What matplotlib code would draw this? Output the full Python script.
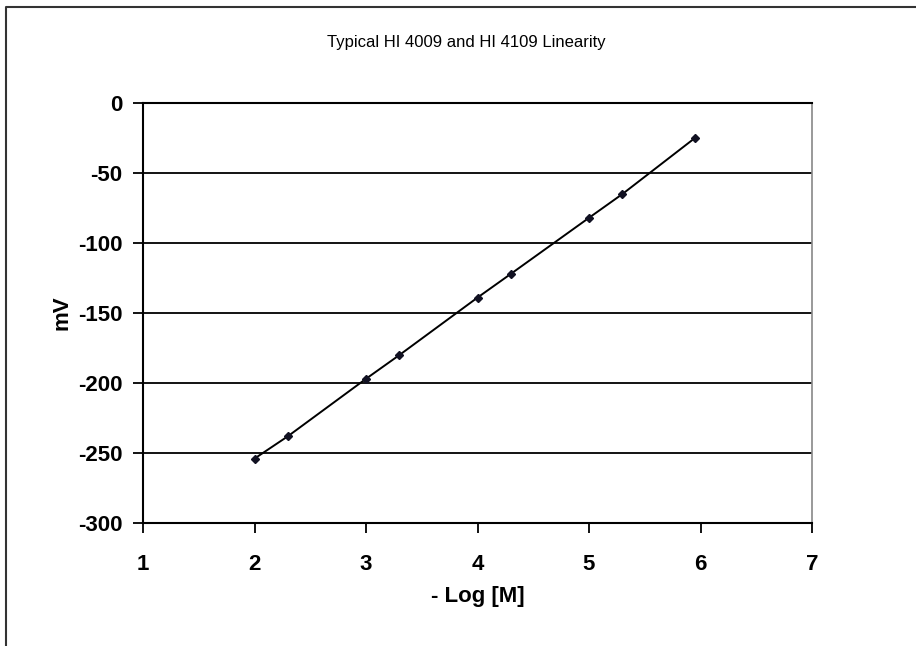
import matplotlib
matplotlib.use("Agg")
import matplotlib.pyplot as plt
from matplotlib.lines import Line2D

# data
log_m = [2, 2.3, 3, 3.3, 4, 4.3, 5, 5.3, 5.95]
mv = [-254, -238, -197, -180, -139, -122, -82, -65, -25]
xticks = [1, 2, 3, 4, 5, 6, 7]
yticks = [0, -50, -100, -150, -200, -250, -300]

plt.rcParams['font.family'] = ['Liberation Sans Narrow', 'Liberation Sans', 'DejaVu Sans']
plt.rcParams['axes.unicode_minus'] = False

fig = plt.figure(figsize=(9.16, 6.46), dpi=100)
ax = fig.add_axes([143/916, 1-523/646, (812-143)/916, (523-103)/646])

ax.plot(log_m, mv, color='black', lw=1.4, marker='D', ms=4,
        mfc='#111122', mec='#111122', zorder=3)

ax.set_xlim(1, 7)
ax.set_ylim(-300, 0)
ax.set_xticks(xticks)
ax.set_yticks(yticks)
ax.yaxis.grid(True, color='black', lw=1.3)
ax.set_axisbelow(True)

for s in ['left', 'bottom', 'top']:
    ax.spines[s].set_linewidth(1.5)
    ax.spines[s].set_color('black')
ax.spines['right'].set_color('#888888')
ax.spines['right'].set_linewidth(1.2)

ax.tick_params(axis='both', direction='out', length=7, width=1.3, labelsize=16)
ax.tick_params(axis='x', pad=15)
ax.tick_params(axis='y', pad=8)
for lab in ax.get_xticklabels() + ax.get_yticklabels():
    lab.set_fontweight('bold')

ax.set_xlabel('- Log [M]', fontsize=16, fontweight='bold', labelpad=8)
ax.set_ylabel('mV', fontsize=16, fontweight='bold', labelpad=4)
fig.text(466/916, 1-42/646, 'Typical HI 4009 and HI 4109 Linearity',
         ha='center', va='center', fontsize=12)

# outer frame (only top and left visible in the crop)
fig.add_artist(Line2D([6/916, 6/916, 1], [0, 1-7/646, 1-7/646],
                      transform=fig.transFigure, color='#333333', lw=1.5))

fig.savefig('out.png', dpi=100)
